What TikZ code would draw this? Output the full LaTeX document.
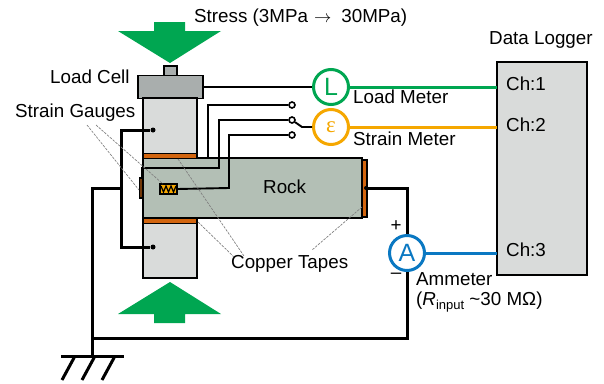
\documentclass[tikz,border=0pt]{standalone}
\usepackage{fontspec}
\setmainfont{Liberation Sans}
\newfontfamily\epsfont{Liberation Serif}
\definecolor{stressgreen}{HTML}{00A651}
\definecolor{meterorange}{HTML}{F5A700}
\definecolor{meterblue}{HTML}{0A78C2}
\definecolor{coppertape}{HTML}{D2650F}
\definecolor{rockgray}{HTML}{B3BFB5}
\definecolor{blockgray}{HTML}{D9DBDA}
\definecolor{cellgray}{HTML}{A9AEAD}
\tikzset{
  part/.style={draw=black,line width=1.9pt,inner sep=0pt,outer sep=0pt},
  tape/.style={draw=black,line width=1.2pt,fill=coppertape,inner sep=0pt,outer sep=0pt},
  wire/.style={line width=1.9pt},
  thickwire/.style={line width=3pt},
  colorwire/.style={line width=3pt},
  leader/.style={gray,dashed,line width=0.7pt,dash pattern=on 2.5pt off 1.2pt},
  label/.style={inner sep=0pt,anchor=west,font=\fontsize{18.8}{21}\selectfont},
  signtext/.style={inner sep=0pt,font=\fontsize{18.8}{19}\selectfont},
  meter/.style={circle,draw=#1,text=#1,fill=white,line width=3pt,minimum size=35pt,inner sep=0pt,font=\fontsize{25}{25}\selectfont},
  contact/.style={circle,draw=black,fill=white,line width=1.6pt,minimum size=6pt,inner sep=0pt},
  tip/.style={circle,fill=black,minimum size=5pt,inner sep=0pt}
}
\begin{document}
\begin{tikzpicture}[x=1pt,y=-1pt]
    \useasboundingbox (0,0) rectangle (604,383);
    % stress arrows
    \fill[stressgreen] (154,22) -- (185,22) -- (185,31) -- (221,31) -- (170,63) -- (118,31) -- (154,31) -- cycle;
    \fill[stressgreen] (154,323) -- (185,323) -- (185,314) -- (221,314) -- (170,282) -- (118,314) -- (154,314) -- cycle;
    \node[label] (stresstext) at (194,18) {Stress (3MPa\hspace{6pt}$\rightarrow$\hspace{10pt}30MPa)};
    % sample column
    \node[part,fill=cellgray,minimum width=13pt,minimum height=10pt] (nub) at (170.5,71) {};
    \node[part,fill=cellgray,minimum width=65pt,minimum height=23pt] (loadcell) at (170.5,87) {};
    \node[part,fill=blockgray,minimum width=54pt,minimum height=56pt] (upperblock) at (170,126) {};
    \node[part,fill=blockgray,minimum width=54pt,minimum height=55pt] (lowerblock) at (170,250.5) {};
    \node[part,fill=rockgray,minimum width=219pt,minimum height=60pt] (rock) at (252.5,188) {};
    \node[tape,minimum width=54pt,minimum height=5pt] (tapetop) at (170,156) {};
    \node[tape,minimum width=54pt,minimum height=5pt] (tapebottom) at (170,221) {};
    \node[tape,minimum width=5pt,minimum height=57pt] (tapeside) at (364.5,188.5) {};
    \node[tape,fill=coppertape!55!black,minimum width=3.5pt,minimum height=20pt] (gaugeside) at (141,188) {};
    \node[part,line width=1.3pt,fill=meterorange,minimum width=17pt,minimum height=10pt] (gaugetop) at (168.5,189) {};
    \draw[line width=1.2pt] (161,186) -- (163.5,192) -- (166,186) -- (168.5,192) -- (171,186) -- (173.5,192) -- (176,186);
    \node[label] (rocktext) at (263,187) {Rock};
    % meters and logger
    \node[part,fill=blockgray,minimum width=90pt,minimum height=213pt] (logger) at (542,168.5) {};
    \node[label] (loggertext) at (489,40) {Data Logger};
    \node[label] (chone) at (506,84) {Ch:1};
    \node[label] (chtwo) at (506,125) {Ch:2};
    \node[label] (chthree) at (506,250) {Ch:3};
    \node[meter=stressgreen] (loadmeter) at (331,87) {L};
    \node[meter=meterorange] (strainmeter) at (331,127) {\epsfont\fontsize{23}{23}\selectfont ε};
    \node[meter=meterblue] (ammeter) at (407,253) {A};
    \draw[colorwire,stressgreen] (loadmeter) -- (logger.west |- loadmeter);
    \draw[colorwire,meterorange] (strainmeter) -- (logger.west |- strainmeter);
    \draw[colorwire,meterblue] (ammeter) -- (logger.west |- ammeter);
    \node[label] (loadtext) at (353,97) {Load Meter};
    \node[label] (straintext) at (353,139) {Strain Meter};
    \node[label] (ammetertext) at (416,279) {Ammeter};
    \node[label] (rinputtext) at (416,302) {(\textit{R}\raisebox{-4.5pt}{\fontsize{13}{13}\selectfont input} \textasciitilde 30 MΩ)};
    \node[signtext] (plus) at (396,226) {+};
    \node[signtext] (minus) at (396,276) {–};
    % switch
    \node[contact] (swone) at (292,105) {};
    \node[contact] (swtwo) at (292,120) {};
    \node[contact] (swthree) at (292,135) {};
    \coordinate (swbend) at (302,127);
    \draw[wire] (swtwo) -- (swbend) -- (strainmeter);
    \draw[wire] (loadcell.east |- loadmeter) -- (loadmeter);
    \coordinate (tapewire) at (208,158);
    \coordinate (sidewire) at (142,168);
    \draw[wire] (tapewire) |- (swone);
    \draw[wire] (gaugeside.north -| sidewire) -- (sidewire) -| (219,120) -- (swtwo);
    \draw[wire] (gaugetop.east) -- (229,188) |- (swthree);
    % guard and ammeter loop
    \node[tip] (guardtop) at (153,130) {};
    \node[tip] (guardbottom) at (153,247) {};
    \coordinate (guardleft) at (121,188);
    \coordinate (groundtop) at (92,356);
    \draw[thickwire] (guardtop) -| (guardleft) |- (guardbottom);
    \draw[thickwire] (guardleft) -- (92,188) -- (groundtop);
    \node[tip,minimum size=4pt] (sidetip) at (366,188) {};
    \draw[thickwire] (sidetip) -| (ammeter);
    \draw[thickwire] (ammeter) |- (92,338);
    % ground
    \draw[thickwire] (61,356) -- (124,356);
    \foreach \xx in {75,95,115} { \draw[thickwire] (\xx,356) -- (\xx-13,380); }
    % leaders
    \node[label] (loadcelltext) at (50,77) {Load Cell};
    \node[label] (gaugestext) at (15,113) {Strain Gauges};
    \node[label] (tapestext) at (231,264) {Copper Tapes};
    \draw[leader] (87,125) -- (139,190);
    \draw[leader] (96,125) -- (163,184);
    \draw[leader] (178,159) -- (244,256);
    \draw[leader] (198,222) -- (234,257);
    \draw[leader] (362,207) -- (312,250);
  \end{tikzpicture}
\end{document}
